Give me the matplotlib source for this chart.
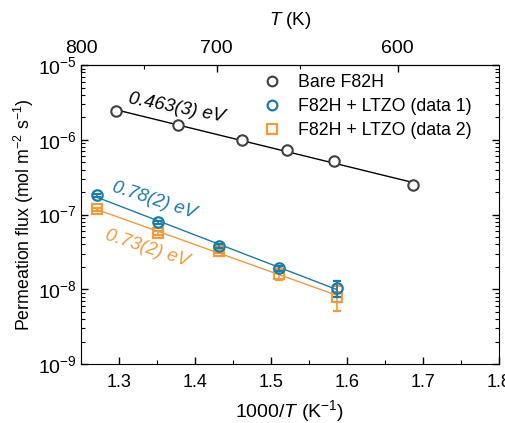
import matplotlib as mpl
mpl.use('Agg')
import matplotlib.pyplot as plt
from matplotlib.ticker import LogLocator, MultipleLocator, FixedLocator, NullFormatter
from matplotlib.lines import Line2D
import numpy as np

plt.rcParams['font.family'] = ['Liberation Sans', 'DejaVu Sans']
plt.rcParams['mathtext.fontset'] = 'custom'
plt.rcParams['mathtext.rm'] = 'Liberation Sans'
plt.rcParams['mathtext.it'] = 'Liberation Sans:italic'
plt.rcParams['font.size'] = 12

# data
invT_bare = [1.296, 1.378, 1.462, 1.521, 1.583, 1.687]
flux_bare = [2.43e-6, 1.57e-6, 9.9e-7, 7.3e-7, 5.2e-7, 2.48e-7]

invT_d1 = [1.271, 1.351, 1.432, 1.511, 1.587]
flux_d1 = [1.82e-7, 7.9e-8, 3.8e-8, 1.93e-8, 1.04e-8]
err_d1 = [0.08e-7, 0.4e-8, 0.25e-8, 0.15e-8, 0.25e-8]

invT_d2 = [1.271, 1.351, 1.432, 1.511, 1.587]
flux_d2 = [1.17e-7, 5.66e-8, 3.25e-8, 1.6e-8, 8.0e-9]
err_d2 = [0.05e-7, 0.3e-8, 0.2e-8, 0.25e-8, 2.9e-9]

labels = ['Bare F82H', 'F82H + LTZO (data 1)', 'F82H + LTZO (data 2)']

c_bare = '#404040'
c_d1 = '#1b7ca6'
c_d2 = '#f39a3c'

fig = plt.figure(figsize=(5.06, 4.23), dpi=100)
ax = fig.add_axes([0.160, 0.1395, 0.826, 0.7065])

def fitline(x, y):
    p = np.polyfit(x, np.log10(y), 1)
    xx = np.array([min(x), max(x)])
    return xx, 10 ** np.polyval(p, xx)

for x, y, c in [(invT_bare, flux_bare, 'black'), (invT_d1, flux_d1, c_d1), (invT_d2, flux_d2, c_d2)]:
    xx, yy = fitline(x, y)
    ax.plot(xx, yy, color=c, lw=1.0, zorder=1)

ax.plot(invT_bare, flux_bare, 'o', ls='none', mfc='white', mec=c_bare, mew=1.5, ms=7.5, zorder=3)
ax.errorbar(invT_d1, flux_d1, yerr=err_d1, fmt='o', mfc='none', mec=c_d1, ecolor=c_d1,
            mew=1.6, ms=7.5, capsize=3, elinewidth=1.2, capthick=1.2, zorder=3)
ax.errorbar(invT_d2, flux_d2, yerr=err_d2, fmt='s', mfc='none', mec=c_d2, ecolor=c_d2,
            mew=1.6, ms=6.5, capsize=3, elinewidth=1.2, capthick=1.2, zorder=2)

ax.set_yscale('log')
ax.set_xlim(1.25, 1.8)
ax.set_ylim(1e-9, 1e-5)
ax.xaxis.set_major_locator(MultipleLocator(0.1))
ax.xaxis.set_minor_locator(MultipleLocator(0.05))
ax.yaxis.set_major_locator(LogLocator(base=10, numticks=10))
ax.yaxis.set_minor_locator(LogLocator(base=10, subs=np.arange(2, 10), numticks=20))
ax.yaxis.set_minor_formatter(NullFormatter())
ax.tick_params(which='both', direction='in', top=False, right=True)
ax.tick_params(which='major', length=5, width=1)
ax.tick_params(which='minor', length=3, width=0.8)
ax.tick_params(axis='x', which='major', pad=7, labelsize=13)
ax.tick_params(axis='y', which='major', pad=3, labelsize=14)

ax.set_xlabel('1000/$T$ (K$^{-1}$)', fontsize=14, labelpad=5)
ax.set_ylabel('Permeation flux (mol m$^{-2}$ s$^{-1}$)', fontsize=12.8)
ax.yaxis.set_label_coords(-0.108, 0.5)

sec = ax.secondary_xaxis('top', functions=(lambda x: 1000 / np.maximum(x, 1e-6),
                                            lambda t: 1000 / np.maximum(t, 1e-6)))
sec.xaxis.set_major_locator(FixedLocator([800, 700, 600]))
sec.xaxis.set_minor_locator(FixedLocator([750, 650]))
sec.tick_params(which='both', direction='in')
sec.tick_params(which='major', length=5, width=1, pad=6, labelsize=14)
sec.tick_params(which='minor', length=3, width=0.8)
sec.set_xlabel('$T$ (K)', fontsize=13.5, labelpad=11)

ax.text(1.376, 2.66e-6, '0.463(3) eV', rotation=-11, style='italic', fontsize=13.5,
        ha='center', va='center', color='black')
ax.text(1.347, 1.56e-7, '0.78(2) eV', rotation=-18, style='italic', fontsize=13.5,
        ha='center', va='center', color=c_d1)
ax.text(1.337, 3.56e-8, '0.73(2) eV', rotation=-18, style='italic', fontsize=13.5,
        ha='center', va='center', color=c_d2)

handles = [
    Line2D([], [], marker='o', ls='none', mfc='white', mec=c_bare, mew=1.5, ms=7),
    Line2D([], [], marker='o', ls='none', mfc='none', mec=c_d1, mew=1.6, ms=7),
    Line2D([], [], marker='s', ls='none', mfc='none', mec=c_d2, mew=1.6, ms=6.5),
]
ax.legend(handles, labels, loc='upper left', bbox_to_anchor=(0.405, 1.005), frameon=False,
          fontsize=12.8, handletextpad=0.9, handlelength=1.2, borderaxespad=0.2,
          labelspacing=0.38)

fig.savefig('out.png', dpi=100)
